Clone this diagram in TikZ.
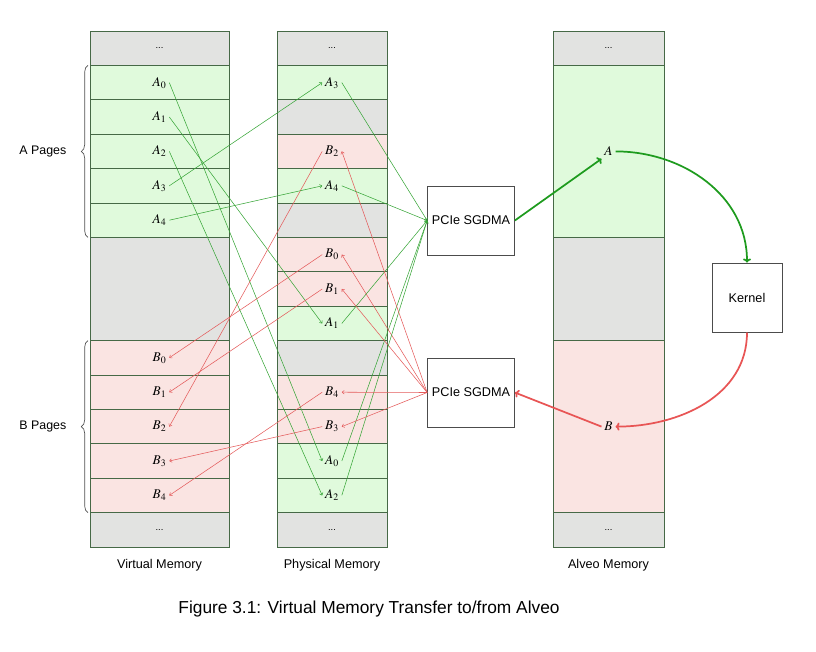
\documentclass[tikz,border=0pt]{standalone}
\usepackage{mathptmx}
\usepackage{fontspec}
\setsansfont{Liberation Sans}
\usetikzlibrary{arrows.meta,decorations.pathreplacing}
\definecolor{gfill}{RGB}{224,250,220}
\definecolor{rfill}{RGB}{250,228,226}
\definecolor{kfill}{RGB}{226,227,225}
\definecolor{cellline}{RGB}{70,105,70}
\definecolor{gline}{RGB}{55,165,55}
\definecolor{rline}{RGB}{228,90,90}
\definecolor{gthick}{RGB}{30,155,30}
\definecolor{rthick}{RGB}{232,85,85}
\definecolor{bracecol}{RGB}{80,80,80}
\tikzset{
  cell/.style={draw=cellline, line width=0.5pt},
  lab/.style={inner sep=2pt, font=\normalsize},
  dots/.style={font=\sffamily\scriptsize, inner sep=1pt},
  gconn/.style={draw=gline, line width=0.4pt, -{To[length=2pt,width=3pt]}},
  rconn/.style={draw=rline, line width=0.4pt, -{To[length=2pt,width=3pt]}},
  gbig/.style={draw=gthick, line width=1.3pt, -{To[length=3pt,width=6pt]}},
  rbig/.style={draw=rthick, line width=1.3pt, -{To[length=3pt,width=6pt]}},
  boxnode/.style={draw=black!70, line width=0.5pt, fill=white, font=\sffamily\fontsize{9.5}{11}\selectfont},
  coltitle/.style={font=\sffamily\fontsize{9.5}{11}\selectfont},
  pagelab/.style={font=\sffamily\fontsize{9.3}{11}\selectfont},
  pagebrace/.style={draw=bracecol, line width=0.5pt, decorate, decoration={brace, amplitude=5pt}}
}
\begin{document}
\begin{tikzpicture}[x=0.75pt,y=-0.75pt]
\useasboundingbox (0,0) rectangle (816,651);
\def\ytop{31}
\def\rh{34.4}
% ---------- Virtual memory column (x 90..229) ----------
\def\vl{90}\def\vr{229}\def\vc{159.5}
\fill[kfill] (\vl,\ytop) rectangle (\vr,{\ytop+\rh});
\fill[gfill] (\vl,{\ytop+\rh}) rectangle (\vr,{\ytop+6*\rh});
\fill[kfill] (\vl,{\ytop+6*\rh}) rectangle (\vr,{\ytop+9*\rh});
\fill[rfill] (\vl,{\ytop+9*\rh}) rectangle (\vr,{\ytop+14*\rh});
\fill[kfill] (\vl,{\ytop+14*\rh}) rectangle (\vr,{\ytop+15*\rh});
\draw[cell] (\vl,\ytop) rectangle (\vr,{\ytop+15*\rh});
\foreach \i in {1,2,3,4,5,6,9,10,11,12,13,14}
  \draw[cell] (\vl,{\ytop+\i*\rh}) -- (\vr,{\ytop+\i*\rh});
\node[dots] (vtop) at (\vc,{\ytop+0.5*\rh}) {...};
\node[dots] (vbot) at (\vc,{\ytop+14.5*\rh}) {...};
\foreach \k in {0,...,4}{
  \node[lab] (vA\k) at (\vc,{\ytop+(\k+1.5)*\rh}) {$A_\k$};
  \node[lab] (vB\k) at (\vc,{\ytop+(\k+9.5)*\rh}) {$B_\k$};
}
% ---------- Physical memory column (x 277..387) ----------
\def\pl{277}\def\pr{387}\def\pc{332}
\foreach \i/\c in {0/kfill,1/gfill,2/kfill,3/rfill,4/gfill,5/kfill,6/rfill,7/rfill,8/gfill,9/kfill,10/rfill,11/rfill,12/gfill,13/gfill,14/kfill}
  \fill[\c] (\pl,{\ytop+\i*\rh}) rectangle (\pr,{\ytop+(\i+1)*\rh});
\draw[cell] (\pl,\ytop) rectangle (\pr,{\ytop+15*\rh});
\foreach \i in {1,...,14}
  \draw[cell] (\pl,{\ytop+\i*\rh}) -- (\pr,{\ytop+\i*\rh});
\node[dots] (ptop) at (\pc,{\ytop+0.5*\rh}) {...};
\node[dots] (pbot) at (\pc,{\ytop+14.5*\rh}) {...};
\foreach \l/\s/\i in {A/3/1,B/2/3,A/4/4,B/0/6,B/1/7,A/1/8,B/4/10,B/3/11,A/0/12,A/2/13}{
  \node[lab] (p\l\s) at (\pc,{\ytop+(\i+0.5)*\rh}) {$\l_\s$};
}
% ---------- Alveo memory column (x 553..664) ----------
\def\al{553}\def\ar{664}\def\ac{608.5}
\fill[kfill] (\al,\ytop) rectangle (\ar,{\ytop+\rh});
\fill[gfill] (\al,{\ytop+\rh}) rectangle (\ar,{\ytop+6*\rh});
\fill[kfill] (\al,{\ytop+6*\rh}) rectangle (\ar,{\ytop+9*\rh});
\fill[rfill] (\al,{\ytop+9*\rh}) rectangle (\ar,{\ytop+14*\rh});
\fill[kfill] (\al,{\ytop+14*\rh}) rectangle (\ar,{\ytop+15*\rh});
\draw[cell] (\al,\ytop) rectangle (\ar,{\ytop+15*\rh});
\foreach \i in {1,6,9,14}
  \draw[cell] (\al,{\ytop+\i*\rh}) -- (\ar,{\ytop+\i*\rh});
\node[dots] (atop) at (\ac,{\ytop+0.5*\rh}) {...};
\node[dots] (abot) at (\ac,{\ytop+14.5*\rh}) {...};
\node[lab] (aA) at (\ac,{\ytop+3.5*\rh}) {$A$};
\node[lab] (aB) at (\ac,{\ytop+11.5*\rh}) {$B$};
% ---------- Boxes ----------
\node[boxnode, minimum width=64.5pt, minimum height=52pt] (dma1) at (471,220.5) {PCIe SGDMA};
\node[boxnode, minimum width=64.5pt, minimum height=52pt] (dma2) at (471,392.5) {PCIe SGDMA};
\node[boxnode, minimum width=52.5pt, minimum height=52pt] (kern) at (747,297.5) {Kernel};
% ---------- Braces and titles ----------
\draw[pagebrace] (88,{\ytop+6*\rh}) -- (88,{\ytop+\rh});
\draw[pagebrace] (88,{\ytop+14*\rh}) -- (88,{\ytop+9*\rh});
\node[pagelab, anchor=east] (apages) at (71,{\ytop+3.5*\rh}) {A Pages};
\node[pagelab, anchor=east] (bpages) at (71,{\ytop+11.5*\rh}) {B Pages};
\node[coltitle] (vt) at (\vc,565) {Virtual Memory};
\node[coltitle] (pt) at (\pc,565) {Physical Memory};
\node[coltitle] (at) at (\ac,565) {Alveo Memory};
\node[font=\sffamily\fontsize{13}{15}\selectfont] (cap) at (369,609) {Figure 3.1: Virtual Memory Transfer to/from Alveo};
% ---------- Connectors ----------
\foreach \k in {0,...,4}{
  \draw[gconn] (vA\k.east) -- (pA\k.west);
  \draw[gconn] (pA\k.east) -- (dma1.west);
  \draw[rconn] (dma2.west) -- (pB\k.east);
  \draw[rconn] (pB\k.west) -- (vB\k.east);
}
\draw[gbig] (dma1.east) -- (aA.south west);
\draw[gbig] (aA.east) to[out=0,in=90] (kern.north);
\draw[rbig] (kern.south) to[out=-90,in=0] (aB.east);
\draw[rbig] (aB.west) -- (dma2.east);
\end{tikzpicture}
\end{document}
